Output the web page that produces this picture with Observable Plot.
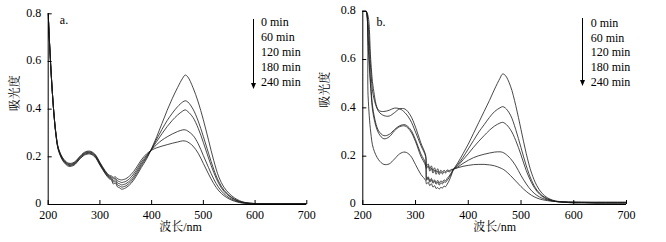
<!DOCTYPE html>
<html><head><meta charset="utf-8">
<script src="https://cdn.jsdelivr.net/npm/d3@7"></script>
<script src="https://cdn.jsdelivr.net/npm/@observablehq/plot@0.6"></script>
<style>
html,body{margin:0;padding:0;background:#fff;}
#wrap{position:relative;width:666px;height:242px;overflow:hidden;background:#fff;}
#wrap svg{position:absolute;top:0;overflow:visible;}
</style>
</head><body><div id="wrap"></div>
<script>
const seriesNames = ["0 min","60 min","120 min","180 min","240 min"];
const legendLabels = ["0 min","60 min","120 min","180 min","240 min"];
const xTicks = [200,300,400,500,600,700];
const yTicks = [0,0.2,0.4,0.6,0.8];
const panelLetters = ["a.","b."];
const yTitle = "吸光度";
const xTitle = "波长/nm";

// Panel a
const waveA = [200,203,206,210,215,220, 230,240,250,260,270,280,290,300,310, 318,322,326,330,334,338,342,346,350, 360,370,380,390,400, 410,420,430,440,450,460,465,470,480, 490,500,510,520,530,540,550,560,570,580, 600,700];
const absA0   = [0.8,0.66,0.54,0.41,0.29,0.225, 0.178,0.16,0.165,0.188,0.207,0.212,0.2,0.165,0.13, 0.108,0.104,0.086,0.09,0.074,0.07,0.064,0.066,0.07, 0.088,0.118,0.155,0.19,0.235, 0.285,0.34,0.395,0.445,0.49,0.53,0.543,0.535,0.49, 0.43,0.355,0.27,0.185,0.115,0.072,0.046,0.028,0.016,0.009, 0.004,0.003];
const absA60  = [0.8,0.66,0.54,0.41,0.292,0.228, 0.181,0.164,0.168,0.19,0.21,0.215,0.203,0.168,0.133, 0.112,0.108,0.094,0.096,0.082,0.078,0.073,0.075,0.078, 0.096,0.126,0.163,0.196,0.233, 0.275,0.315,0.352,0.383,0.41,0.43,0.435,0.43,0.4, 0.35,0.285,0.215,0.148,0.095,0.06,0.038,0.023,0.013,0.008, 0.004,0.003];
const absA120 = [0.8,0.66,0.54,0.41,0.294,0.23, 0.184,0.167,0.171,0.193,0.213,0.218,0.206,0.171,0.136, 0.115,0.112,0.1,0.104,0.09,0.087,0.082,0.084,0.087, 0.104,0.134,0.17,0.201,0.232, 0.265,0.297,0.327,0.353,0.375,0.392,0.397,0.39,0.365, 0.32,0.26,0.195,0.135,0.087,0.055,0.035,0.021,0.012,0.007, 0.004,0.003];
const absA180 = [0.8,0.66,0.54,0.41,0.296,0.232, 0.187,0.17,0.174,0.196,0.216,0.221,0.209,0.174,0.139, 0.119,0.116,0.108,0.11,0.099,0.096,0.092,0.094,0.097, 0.114,0.143,0.178,0.206,0.23, 0.252,0.27,0.284,0.296,0.306,0.313,0.313,0.308,0.29, 0.255,0.205,0.155,0.107,0.07,0.045,0.028,0.017,0.01,0.006, 0.003,0.003];
const absA240 = [0.8,0.66,0.54,0.41,0.298,0.235, 0.19,0.173,0.177,0.199,0.219,0.224,0.212,0.177,0.142, 0.123,0.12,0.114,0.116,0.108,0.105,0.103,0.105,0.108, 0.125,0.153,0.187,0.212,0.228, 0.238,0.245,0.251,0.257,0.262,0.267,0.266,0.262,0.245, 0.215,0.172,0.128,0.088,0.057,0.037,0.023,0.014,0.008,0.005, 0.003,0.003];

// Panel b
const waveB = [200,203,206,210,215,220, 230,240,250,260,270,280,290,300,310, 319,321, 324,327,330,333,336,339,342,345,348,351,354,357,360, 364,368,372, 380,390,400,410,420,430,440,450,460, 465,470, 480,490,500,510,520,530,540,550,560,570,580,590,600, 620,640,660,680,700];
const absB0   = [0.8,0.8,0.8,0.45,0.3,0.232, 0.185,0.166,0.168,0.188,0.21,0.217,0.203,0.165,0.125, 0.1,0.085, 0.092,0.078,0.086,0.072,0.078,0.066,0.07,0.064,0.071,0.068,0.076,0.074,0.084, 0.1,0.122,0.145, 0.172,0.21,0.25,0.295,0.34,0.385,0.43,0.478,0.522, 0.54,0.535, 0.49,0.41,0.31,0.21,0.13,0.078,0.046,0.028,0.018,0.013,0.011,0.01,0.009, 0.009,0.008,0.008,0.008,0.008];
const absB60  = [0.8,0.8,0.8,0.66,0.48,0.37, 0.295,0.272,0.28,0.305,0.322,0.325,0.305,0.26,0.2, 0.16,0.1, 0.11,0.092,0.102,0.088,0.096,0.084,0.092,0.08,0.09,0.085,0.094,0.092,0.1, 0.112,0.128,0.145, 0.165,0.195,0.23,0.265,0.3,0.33,0.36,0.385,0.4, 0.405,0.4, 0.37,0.31,0.235,0.16,0.1,0.06,0.037,0.024,0.016,0.012,0.01,0.009,0.008, 0.008,0.007,0.007,0.007,0.007];
const absB120 = [0.8,0.8,0.8,0.7,0.5,0.385, 0.305,0.285,0.29,0.31,0.326,0.33,0.312,0.268,0.21, 0.17,0.105, 0.115,0.098,0.108,0.094,0.102,0.09,0.1,0.088,0.098,0.092,0.102,0.098,0.108, 0.118,0.132,0.146, 0.16,0.185,0.21,0.237,0.262,0.285,0.307,0.325,0.337, 0.34,0.335, 0.31,0.265,0.205,0.14,0.09,0.055,0.034,0.022,0.015,0.011,0.009,0.008,0.007, 0.007,0.006,0.006,0.006,0.006];
const absB180 = [0.8,0.8,0.8,0.75,0.56,0.45, 0.385,0.368,0.366,0.38,0.396,0.395,0.37,0.32,0.255, 0.205,0.15, 0.16,0.138,0.15,0.13,0.142,0.125,0.138,0.124,0.135,0.126,0.136,0.13,0.138, 0.135,0.142,0.146, 0.155,0.17,0.183,0.194,0.202,0.208,0.213,0.217,0.218, 0.216,0.21, 0.19,0.16,0.12,0.085,0.057,0.038,0.026,0.019,0.014,0.011,0.009,0.008,0.007, 0.007,0.006,0.006,0.006,0.006];
const absB240 = [0.8,0.8,0.8,0.78,0.6,0.48, 0.39,0.385,0.39,0.399,0.396,0.38,0.35,0.3,0.245, 0.2,0.16, 0.168,0.148,0.16,0.14,0.152,0.135,0.148,0.132,0.142,0.134,0.142,0.136,0.143, 0.14,0.145,0.146, 0.152,0.158,0.162,0.165,0.166,0.166,0.164,0.16,0.152, 0.147,0.14, 0.12,0.097,0.074,0.054,0.038,0.027,0.02,0.016,0.013,0.012,0.012,0.011,0.011, 0.01,0.01,0.01,0.01,0.01];

const FONT = '"Liberation Serif", "Noto Serif CJK SC", "Noto Sans CJK SC", serif';
const fmtY = d => d === 0 ? "0" : d3.format(".1f")(d);

function tidy(waves, series) {
  return seriesNames.flatMap((name, i) => waves.map((w, j) => ({wave: w, value: series[i][j], series: name})));
}

function panel(waves, series, cfg) {
  return Plot.plot({
    width: cfg.width, height: 242,
    marginLeft: cfg.ml, marginRight: cfg.mr, marginTop: cfg.mt, marginBottom: 38,
    x: {domain: [200, 700], label: null},
    y: {domain: [0, 0.8], label: null},
    style: {fontFamily: FONT, fontSize: "12px", color: "#000", background: "transparent", overflow: "visible"},
    marks: [
      Plot.line(tidy(waves, series), {x: "wave", y: "value", z: "series", stroke: "#1a1a1a", strokeWidth: 0.8, curve: "catmull-rom", clip: true}),
      Plot.ruleY([0], {stroke: "#000", strokeWidth: 1}),
      Plot.ruleX([200], {stroke: "#000", strokeWidth: 1}),
      Plot.axisX(xTicks, {tickSize: 4, dy: -4, tickFormat: () => "", label: null, stroke: "#000"}),
      Plot.axisX(xTicks, {tickSize: 0, tickPadding: 6, label: null, fill: "#000"}),
      Plot.axisY(yTicks, {tickSize: 4, dx: 4, tickFormat: () => "", label: null, stroke: "#000"}),
      Plot.axisY(yTicks, {tickSize: 0, tickPadding: 7, tickFormat: fmtY, label: null, fill: "#000", dy: -1}),
      Plot.text([cfg.letter], {frameAnchor: "top-left", dx: cfg.ldx, dy: cfg.ldy, textAnchor: "start", fill: "#000"}),
      Plot.text([yTitle], {frameAnchor: "left", rotate: -90, dx: cfg.ydx, dy: cfg.ydy, fill: "#000"}),
      Plot.text([xTitle], {frameAnchor: "bottom", dx: cfg.xdx, dy: 26, fill: "#000"})
    ]
  });
}

const wrap = document.getElementById("wrap");
const pa = panel(waveA, [absA0, absA60, absA120, absA180, absA240],
  {width: 310, ml: 47.7, mr: 3.7, mt: 13.3, letter: panelLetters[0], ldx: 11.6, ldy: 2, ydx: -32.7, ydy: 2, xdx: 3});
pa.style.left = "0px";
wrap.appendChild(pa);
const pb = panel(waveB, [absB0, absB60, absB120, absB180, absB240],
  {width: 356, ml: 52.3, mr: 40, mt: 10.7, letter: panelLetters[1], ldx: 13.7, ldy: 6, ydx: -37.3, ydy: 0, xdx: 0});
pb.style.left = "310px";
wrap.appendChild(pb);

// Legends (arrow + time labels)
const ov = d3.create("svg").attr("width", 666).attr("height", 242).style("left", "0px").style("pointer-events", "none");
function legend(ax, y0, y1, tx, ty0, step) {
  ov.append("line").attr("x1", ax).attr("x2", ax).attr("y1", y0).attr("y2", y1 - 5).attr("stroke", "#000").attr("stroke-width", 1);
  ov.append("path").attr("d", `M${ax - 2.5},${y1 - 6}L${ax + 2.5},${y1 - 6}L${ax},${y1}Z`).attr("fill", "#000");
  legendLabels.forEach((t, i) => {
    ov.append("text").attr("x", tx).attr("y", ty0 + i * step).attr("dy", "0.32em")
      .attr("font-family", FONT).attr("font-size", 12).attr("fill", "#000").text(t);
  });
}
legend(253.5, 19, 89, 261, 22.5, 15);
legend(582.5, 18, 86, 590.7, 23.3, 14.6);
wrap.appendChild(ov.node());
</script></body></html>
